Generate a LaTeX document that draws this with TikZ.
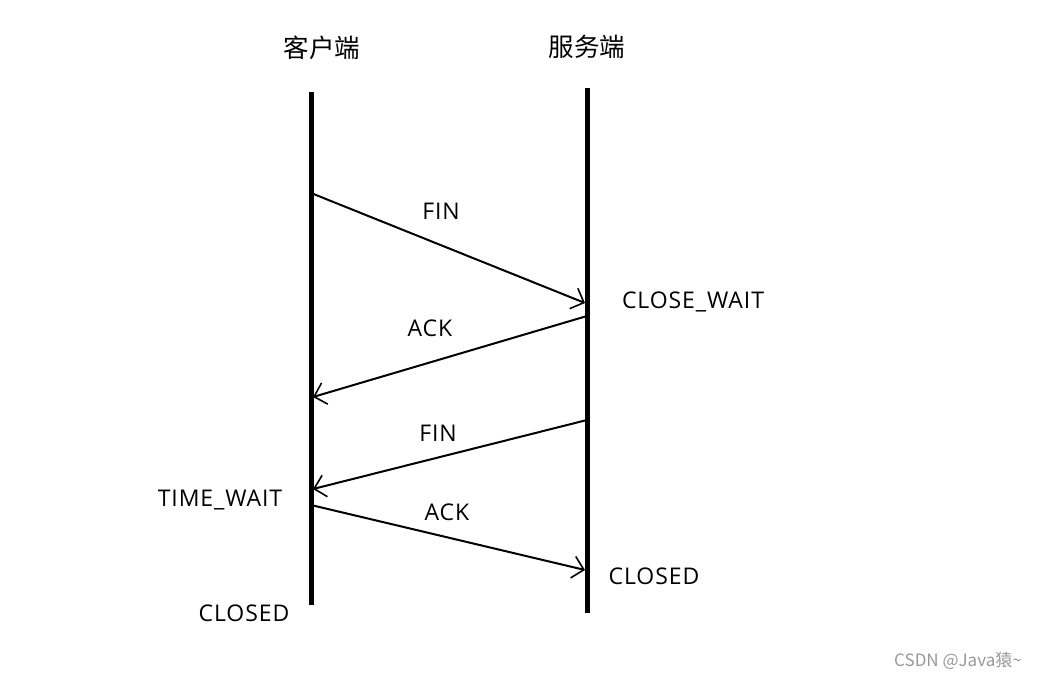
\documentclass[tikz,border=0pt]{standalone}
\usepackage{fontspec}
\setmainfont{Noto Sans CJK SC}
\newfontfamily\labelfont[LetterSpace=4]{Open Sans}
\usetikzlibrary{arrows.meta}

\begin{document}
\begin{tikzpicture}[x=1pt, y=-1pt,
    lifeline/.style={line width=5pt},
    msg/.style={line width=2pt, -{Straight Barb[length=11pt, width=22pt, line width=1.6pt]}},
    lbl/.style={font=\labelfont\fontsize{23}{27}\selectfont, inner sep=0pt},
    head/.style={font=\fontsize{25.5}{30}\selectfont, inner sep=0pt}]
      \def\clientx{311}
      \def\serverx{587}

      \useasboundingbox (0,0) rectangle (1052,678);

      % lifelines
      \coordinate (ctop) at (\clientx,92);
      \coordinate (cbot) at (\clientx,605);
      \coordinate (stop) at (\serverx,88);
      \coordinate (sbot) at (\serverx,613);
      \draw[lifeline] (ctop) -- (cbot);
      \draw[lifeline] (stop) -- (sbot);

      \node[head] (client) at (322,48) {客户端};
      \node[head] (server) at (587,47) {服务端};

      % message end points
      \coordinate (c1) at (\clientx,193);
      \coordinate (s1) at (\serverx-2,303);
      \coordinate (s2) at (\serverx,316);
      \coordinate (c2) at (\clientx+2,397);
      \coordinate (s3) at (\serverx,420);
      \coordinate (c3) at (\clientx+2,489);
      \coordinate (c4) at (\clientx,505);
      \coordinate (s4) at (\serverx-2,570);

      \draw[msg] (c1) -- (s1);
      \draw[msg] (s2) -- (c2);
      \draw[msg] (s3) -- (c3);
      \draw[msg] (c4) -- (s4);

      \node[lbl] (fin1) at (441,211) {FIN};
      \node[lbl] (ack1) at (430,328) {ACK};
      \node[lbl] (fin2) at (438,433) {FIN};
      \node[lbl] (ack2) at (447,512) {ACK};

      \node[lbl] (closewait) at (693,302) {CLOSE\_WAIT};
      \node[lbl] (timewait) at (220,500) {TIME\_WAIT};
      \node[lbl] (sclosed) at (654,576) {CLOSED};
      \node[lbl] (cclosed) at (244,613) {CLOSED};

      \node[font=\fontsize{17}{20}\selectfont, text=black!40, inner sep=0pt] (mark) at (958,661) {CSDN @Java猿\textasciitilde};
    \end{tikzpicture}
\end{document}
